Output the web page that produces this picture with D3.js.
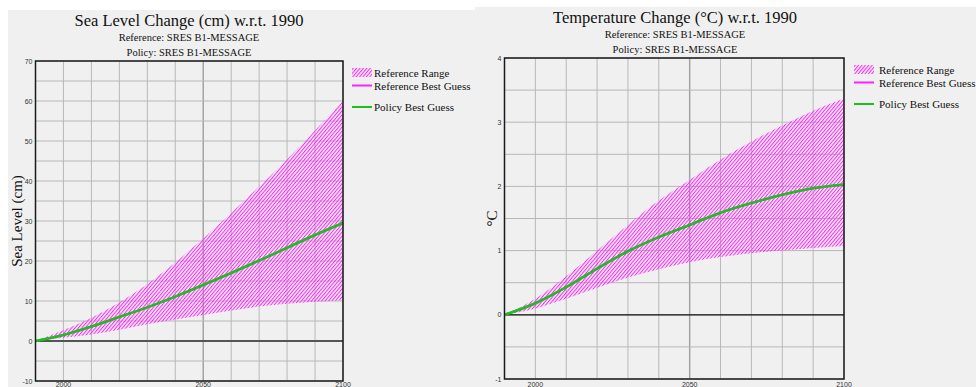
<!DOCTYPE html>
<html>
<head>
<meta charset="utf-8">
<script src="https://cdn.jsdelivr.net/npm/d3@7"></script>
<style>
  body { margin: 0; background: #fff; }
  svg { display: block; }
  .tick-text { font-family: "Liberation Sans", Arial, sans-serif; font-size: 7px; fill: #333; }
  .serif { font-family: "Liberation Serif", "Times New Roman", serif; fill: #111; }
</style>
</head>
<body>
<svg id="chart" width="976" height="387"></svg>
<script>
// decades, 1990..2100
const years = [1990, 2000, 2010, 2020, 2030, 2040, 2050, 2060, 2070, 2080, 2090, 2100]

// sea level (cm)
const seaBest = [0, 1.5, 3.6, 6.0, 8.4, 11.1, 14.0, 17.0, 20.1, 23.3, 26.5, 29.5]
const seaLow = [0, 0.8, 1.6, 2.8, 4.2, 5.4, 6.5, 7.6, 8.6, 9.3, 9.8, 10.2]
const seaHigh = [0, 2.7, 5.8, 9.6, 14.2, 19.6, 25.6, 32.0, 38.6, 45.4, 52.6, 60.0]

// temperature (°C)
const tempBest = [0, 0.18, 0.43, 0.72, 0.99, 1.21, 1.40, 1.59, 1.74, 1.87, 1.97, 2.03]
const tempLow = [0, 0.10, 0.25, 0.42, 0.58, 0.71, 0.82, 0.90, 0.96, 1.00, 1.04, 1.07]
const tempHigh = [0, 0.25, 0.60, 1.00, 1.40, 1.78, 2.10, 2.42, 2.70, 2.95, 3.18, 3.37]

const seaTicks = [70, 60, 50, 40, 30, 20, 10, 0, -10]
const tempTicks = [4, 3, 2, 1, 0, -1]
const xTicks = [2000, 2050, 2100]
const legendLabels = ['Reference Range', 'Reference Best Guess', 'Policy Best Guess']
const subtitles = ['Reference: SRES B1-MESSAGE', 'Policy: SRES B1-MESSAGE']

const magenta = '#ff22ff'
const green = '#1cbf1c'

let svg = d3.select('#chart')

// panel backgrounds
svg.append('rect').attr('x', 8).attr('y', 10).attr('width', 467).attr('height', 377).attr('fill', '#f0f0f0')
svg.append('rect').attr('x', 475).attr('y', 7).attr('width', 501).attr('height', 380).attr('fill', '#f0f0f0')

// hatch pattern
let defs = svg.append('defs')
defs.append('pattern')
  .attr('id', 'hatch')
  .attr('patternUnits', 'userSpaceOnUse')
  .attr('width', 2.6)
  .attr('height', 3)
  .attr('patternTransform', 'rotate(40)')
  .append('line')
  .attr('x1', 0.5).attr('y1', 0).attr('x2', 0.5).attr('y2', 3)
  .attr('stroke', magenta)
  .attr('stroke-width', 1)

let drawPanel = function (cfg) {
  let x = d3.scaleLinear().domain([1990, 2100]).range([cfg.left, cfg.right])
  let y = d3.scaleLinear().domain(cfg.yDomain).range([cfg.bottom, cfg.top])
  let g = svg.append('g')

  // titles
  g.append('text').classed('serif', true)
    .attr('x', cfg.titleX).attr('y', cfg.titleY)
    .attr('text-anchor', 'middle').style('font-size', '16.5px')
    .text(cfg.title)
  subtitles.forEach((s, i) => {
    g.append('text').classed('serif', true)
      .attr('x', cfg.titleX).attr('y', cfg.titleY + 15 + i * 14.5)
      .attr('text-anchor', 'middle').style('font-size', '10.5px')
      .text(s)
  })

  // grid
  let vgrid = d3.range(1990, 2101, 10)
  g.append('g').selectAll('line').data(vgrid).enter().append('line')
    .attr('x1', d => x(d)).attr('x2', d => x(d))
    .attr('y1', cfg.top).attr('y2', cfg.bottom)
    .attr('stroke', d => d === 2050 ? '#a4a4a4' : '#b8b8b8')
    .attr('stroke-width', d => d === 2050 ? 1.5 : 1)
  let hgrid = d3.range(cfg.yDomain[0], cfg.yDomain[1] + 1e-9, cfg.gridStep)
  g.append('g').selectAll('line').data(hgrid).enter().append('line')
    .attr('x1', cfg.left).attr('x2', cfg.right)
    .attr('y1', d => y(d)).attr('y2', d => y(d))
    .attr('stroke', '#b8b8b8').attr('stroke-width', 1)

  // zero line
  g.append('line')
    .attr('x1', cfg.left).attr('x2', cfg.right)
    .attr('y1', y(0)).attr('y2', y(0))
    .attr('stroke', cfg.zeroColor).attr('stroke-width', cfg.zeroWidth)

  // range area
  let area = d3.area()
    .x((d, i) => x(years[i]))
    .y0((d, i) => y(cfg.low[i]))
    .y1((d, i) => y(cfg.high[i]))
    .curve(d3.curveMonotoneX)
  g.append('path').attr('d', area(years)).attr('fill', 'url(#hatch)')

  let line = d3.line()
    .x((d, i) => x(years[i]))
    .y(d => y(d))
    .curve(d3.curveMonotoneX)
  g.append('path').attr('d', line(cfg.best)).attr('fill', 'none')
    .attr('stroke', magenta).attr('stroke-width', 2)
  g.append('path').attr('d', line(cfg.best)).attr('fill', 'none')
    .attr('stroke', green).attr('stroke-width', 2.6)

  // border
  g.append('rect')
    .attr('x', cfg.left).attr('y', cfg.top)
    .attr('width', cfg.right - cfg.left).attr('height', cfg.bottom - cfg.top)
    .attr('fill', 'none').attr('stroke', '#1a1a1a').attr('stroke-width', 1.5)

  // y tick labels
  g.append('g').selectAll('text').data(cfg.yTicks).enter().append('text')
    .classed('tick-text', true)
    .attr('x', cfg.left - 3).attr('y', d => y(d) + 2.5)
    .attr('text-anchor', 'end')
    .text(d => d)
  // x tick labels
  g.append('g').selectAll('text').data(xTicks).enter().append('text')
    .classed('tick-text', true)
    .attr('x', d => x(d)).attr('y', 386.5)
    .attr('text-anchor', 'middle')
    .text(d => d)

  // y label
  g.append('text').classed('serif', true)
    .attr('transform', `translate(${cfg.ylabelX}, ${(cfg.top + cfg.bottom) / 2}) rotate(-90)`)
    .attr('text-anchor', 'middle').style('font-size', '15px')
    .text(cfg.ylabel)

  // legend
  let lg = g.append('g').attr('transform', `translate(${cfg.legendX}, ${cfg.legendY})`)
  lg.append('rect').attr('x', 0).attr('y', -5).attr('width', 20).attr('height', 9)
    .attr('fill', 'url(#hatch)')
  lg.append('line').attr('x1', 0).attr('x2', 20).attr('y1', 12.5).attr('y2', 12.5)
    .attr('stroke', magenta).attr('stroke-width', 2)
  lg.append('line').attr('x1', 0).attr('x2', 20).attr('y1', 34).attr('y2', 34)
    .attr('stroke', green).attr('stroke-width', 2)
  let ly = [4, 17, 38]
  legendLabels.forEach((s, i) => {
    lg.append('text').classed('serif', true)
      .attr('x', cfg.legendText).attr('y', ly[i])
      .style('font-size', '11px')
      .text(s)
  })
}

drawPanel({
  title: 'Sea Level Change (cm) w.r.t. 1990',
  titleX: 189, titleY: 26,
  left: 35.5, right: 343, top: 61, bottom: 381,
  yDomain: [-10, 70], gridStep: 5, yTicks: seaTicks,
  best: seaBest, low: seaLow, high: seaHigh,
  zeroColor: '#555', zeroWidth: 2,
  ylabel: 'Sea Level (cm)', ylabelX: 22,
  legendX: 352, legendY: 73, legendText: 22
})

drawPanel({
  title: 'Temperature Change (°C) w.r.t. 1990',
  titleX: 675, titleY: 23,
  left: 504.5, right: 844, top: 58, bottom: 379,
  yDomain: [-1, 4], gridStep: 0.5, yTicks: tempTicks,
  best: tempBest, low: tempLow, high: tempHigh,
  zeroColor: '#111', zeroWidth: 1.2,
  ylabel: '°C', ylabelX: 497,
  legendX: 854, legendY: 70, legendText: 25
})
</script>
</body>
</html>
